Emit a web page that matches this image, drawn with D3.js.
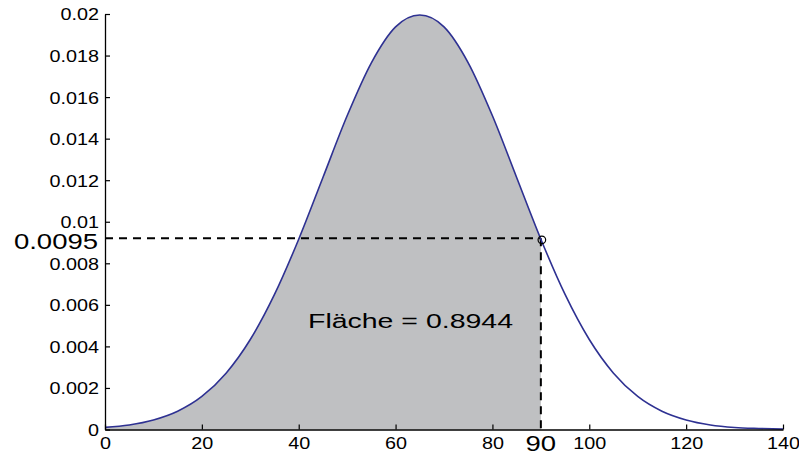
<!doctype html>
<html lang="de">
<head>
  <style>
    body { margin: 0; background: #fff; }
    text { font-family: "Liberation Sans", Arial, sans-serif; fill: #000; }
    .tick-label { font-size: 16.5px; }
    .big-label { font-size: 22px; }
  </style>
  <script src="https://d3js.org/d3.v7.min.js"></script>
</head>
<body>
  <script>
    // curve values, every 5 units
    const xs = [0, 5, 10, 15, 20, 25, 30, 35, 40, 45, 50, 55, 60, 65, 70,
                75, 80, 85, 90, 95, 100, 105, 110, 115, 120, 125, 130, 135, 140];
    const density = [0.0001, 0.00022, 0.00046, 0.00088, 0.00159, 0.00271, 0.00433, 0.0065,
                     0.00916, 0.01213, 0.0151, 0.01765, 0.01938, 0.01995, 0.01938, 0.01765,
                     0.0151, 0.01213, 0.00916, 0.0065, 0.00433, 0.00271, 0.00159, 0.00088,
                     0.00046, 0.00022, 0.0001, 0.00005, 0.00002];
    const xTicks = [0, 20, 40, 60, 80, 100, 120, 140];
    const yTicks = [0, 0.002, 0.004, 0.006, 0.008, 0.01, 0.012, 0.014, 0.016, 0.018, 0.02];
    const cutX = 90;
    const cutY = 0.0092;
    const cutYLabel = "0.0095";
    const areaLabel = "Fläche = 0.8944";

    const data = xs.map((x, i) => ({ x: x, y: density[i] }));

    const margin = { top: 14, right: 16, bottom: 25.5, left: 105 };
    const W = 799, H = 455;
    const width = W - margin.left - margin.right;
    const height = H - margin.top - margin.bottom;
    const sx = 1.2; // the reference text is stretched sideways

    const svg = d3.select("body").append("svg")
        .attr("width", W)
        .attr("height", H);
    const g = svg.append("g")
        .attr("transform", `translate(${margin.left},${margin.top})`);

    const x = d3.scaleLinear().domain([0, 140]).range([0, width]);
    const y = d3.scaleLinear().domain([0, 0.02]).range([height, 0]);

    // shaded area up to 90
    const area = d3.area()
        .x(d => x(d.x))
        .y0(y(0))
        .y1(d => y(d.y))
        .curve(d3.curveMonotoneX);
    g.append("path")
        .datum(data.filter(d => d.x <= cutX))
        .attr("d", area)
        .attr("fill", "#bfc0c2");

    // dashed guides
    g.append("line")
        .attr("x1", 0).attr("x2", x(cutX))
        .attr("y1", y(cutY)).attr("y2", y(cutY))
        .attr("stroke", "#000").attr("stroke-width", 2)
        .attr("stroke-dasharray", "8,6");
    g.append("line")
        .attr("x1", x(cutX)).attr("x2", x(cutX))
        .attr("y1", y(cutY)).attr("y2", y(0))
        .attr("stroke", "#000").attr("stroke-width", 2)
        .attr("stroke-dasharray", "8,6");

    // curve
    const line = d3.line()
        .x(d => x(d.x))
        .y(d => y(d.y))
        .curve(d3.curveMonotoneX);
    g.append("path")
        .datum(data)
        .attr("d", line)
        .attr("fill", "none")
        .attr("stroke", "#2e3192")
        .attr("stroke-width", 1.6);

    g.append("circle")
        .attr("cx", x(cutX) + 1)
        .attr("cy", y(cutY) + 1.5)
        .attr("r", 3.8)
        .attr("fill", "none")
        .attr("stroke", "#000")
        .attr("stroke-width", 1.2);

    // axes, ticks pointing inward
    const xAxis = g.append("g")
        .attr("transform", `translate(0,${height})`)
        .call(d3.axisBottom(x).tickValues(xTicks).tickSizeInner(-5).tickSizeOuter(0).tickFormat(d3.format("d")));
    const yAxis = g.append("g")
        .call(d3.axisLeft(y).tickValues(yTicks).tickSizeInner(-5).tickSizeOuter(0).tickFormat(d => d === 0 ? "0" : d3.format("~g")(d)));

    [xAxis, yAxis].forEach(a => {
      a.select(".domain").attr("stroke", "#000").attr("stroke-width", 1.3);
      a.selectAll(".tick line").attr("stroke", "#000").attr("stroke-width", 1.2);
      a.selectAll(".tick text")
          .attr("class", "tick-label")
          .attr("font-family", null)
          .attr("font-size", null)
          .attr("fill", "#000")
          .attr("transform", `scale(${sx},1)`);
    });
    xAxis.selectAll(".tick text").attr("y", 20).attr("dy", null);
    yAxis.selectAll(".tick text").attr("x", -6 / sx).attr("dy", "0.36em");

    // emphasised labels
    g.append("text")
        .attr("class", "big-label")
        .attr("transform", `translate(-7,${y(cutY) + 11}) scale(1.25,1)`)
        .attr("text-anchor", "end")
        .text(cutYLabel);
    g.append("text")
        .attr("class", "big-label")
        .attr("transform", `translate(${x(cutX)},${height + 21.5}) scale(1.25,1)`)
        .attr("text-anchor", "middle")
        .text(cutX);

    g.append("text")
        .attr("x", 203)
        .attr("y", y(0.0049))
        .attr("textLength", 205)
        .attr("lengthAdjust", "spacingAndGlyphs")
        .style("font-size", "20.5px")
        .text(areaLabel);
  </script>
</body>
</html>
